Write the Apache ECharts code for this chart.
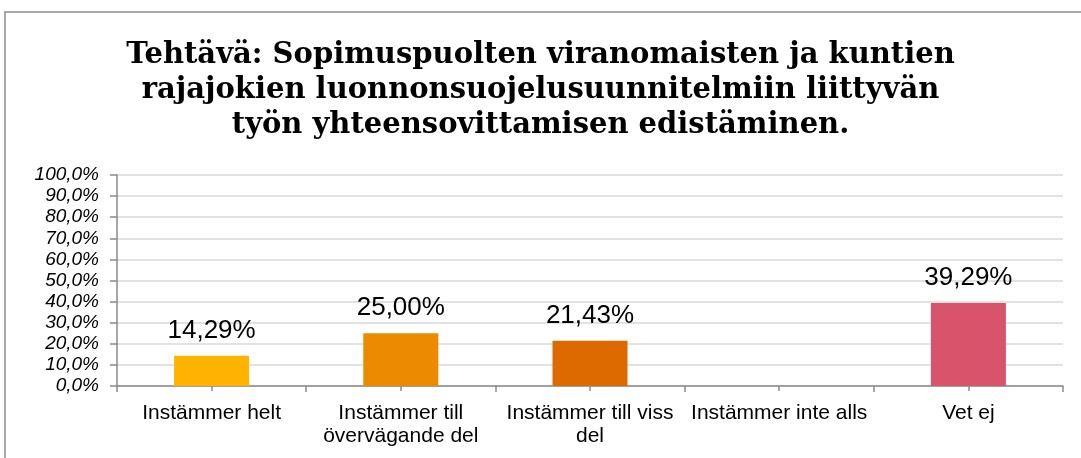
<!DOCTYPE html>
<html>
<head>
<meta charset="utf-8">
<script src="https://cdn.jsdelivr.net/npm/echarts@6/dist/echarts.min.js"></script>
<style>
html,body{margin:0;padding:0;background:#fff;}
#c{width:1081px;height:458px;}
</style>
</head>
<body>
<div id="c"></div>
<script>
const titleText = 'Tehtävä: Sopimuspuolten viranomaisten ja kuntien\nrajajokien luonnonsuojelusuunnitelmiin liittyvän\ntyön yhteensovittamisen edistäminen.';
const categories = ['Instämmer helt', 'Instämmer till\növervägande del', 'Instämmer till viss\ndel', 'Instämmer inte alls', 'Vet ej'];
const values = [14.29, 25.00, 21.43, 0, 39.29];
const barColors = ['#FFB300', '#EC8B00', '#DD6A00', '#E07000', '#D9536B'];
const yTicks = { min: 0, max: 100, interval: 10 };

const chart = echarts.init(document.getElementById('c'), null, { renderer: 'canvas' });
const fmtPct = (v, d) => v.toFixed(d).replace('.', ',') + '%';

chart.setOption({
  animation: false,
  backgroundColor: '#fff',
  graphic: [{
    type: 'rect', silent: true, z: -1,
    shape: { x: 5, y: 12, width: 1100, height: 460 },
    style: { fill: 'none', stroke: '#8c8c8c', lineWidth: 1.5 }
  }],
  title: {
    text: titleText,
    left: 'center', top: 33,
    textStyle: { fontFamily: 'DejaVu Serif', fontWeight: 'bold', fontSize: 29, lineHeight: 35, color: '#000' }
  },
  grid: { left: 117, right: 18, top: 175, bottom: 72 },
  xAxis: [{
    type: 'category', data: categories,
    axisLine: { lineStyle: { color: '#8a8a8a', width: 1.5 } },
    axisTick: { show: true, length: 6, interval: 0, lineStyle: { color: '#8a8a8a', width: 1.5 } },
    axisLabel: { interval: 0, margin: 16, color: '#000', fontFamily: 'Liberation Sans', fontSize: 21, lineHeight: 23 }
  }, {
    type: 'category', data: categories, position: 'bottom',
    axisLine: { show: false },
    axisTick: { show: true, alignWithLabel: true, length: 5, interval: 0, lineStyle: { color: '#8a8a8a', width: 1.5 } },
    axisLabel: { show: false }
  }],
  yAxis: {
    type: 'value', min: yTicks.min, max: yTicks.max, interval: yTicks.interval,
    axisLine: { show: true, lineStyle: { color: '#8a8a8a', width: 1.5 } },
    axisTick: { show: true, length: 7, lineStyle: { color: '#8a8a8a', width: 1.5 } },
    splitLine: { lineStyle: { color: '#d9d9d9', width: 1.5 } },
    axisLabel: { margin: 18, color: '#000', fontFamily: 'Liberation Sans', fontStyle: 'italic', fontSize: 19, formatter: v => fmtPct(v, 1) }
  },
  series: [{
    type: 'bar', barWidth: 75,
    data: values.map((v, i) => ({ value: v, itemStyle: { color: barColors[i] } })),
    label: {
      show: true, position: 'top', distance: 12,
      color: '#000', fontFamily: 'Liberation Sans', fontSize: 26,
      formatter: p => p.value ? fmtPct(p.value, 2) : ''
    }
  }]
});
</script>
</body>
</html>
